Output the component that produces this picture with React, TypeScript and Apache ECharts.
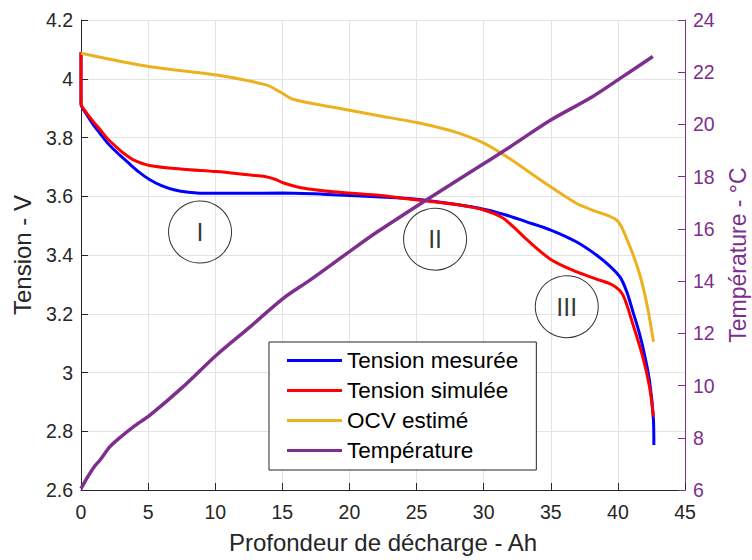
import React, { useEffect, useRef } from "react";
import * as echarts from "echarts";

// Profondeur de décharge (Ah) and values per series
const measuredAh = [0, 0, 0.4, 0.9, 1.4, 2.0, 2.7, 3.5, 4.3, 5.1, 6.0, 7.0, 8.0, 9.5, 12, 15, 18, 22, 25, 28, 30, 31.6, 33.2, 35, 36.9, 38.4, 39.4, 40.2, 40.7, 41.1, 41.5, 41.85, 42.35, 42.65, 42.68];
const measuredV = [4.09, 3.915, 3.88, 3.845, 3.815, 3.78, 3.748, 3.715, 3.683, 3.657, 3.636, 3.621, 3.614, 3.61, 3.61, 3.611, 3.607, 3.598, 3.59, 3.572, 3.556, 3.537, 3.513, 3.485, 3.445, 3.4, 3.362, 3.322, 3.27, 3.21, 3.15, 3.088, 2.974, 2.838, 2.753];

const simulatedAh = [0, 0, 0.4, 0.9, 1.4, 2.0, 2.7, 3.3, 3.9, 5.1, 7.6, 10.1, 12.6, 13.7, 14.5, 15.1, 16.3, 18.8, 22, 25.1, 28.2, 30, 31.4, 32.3, 33.2, 35, 36.9, 38.4, 39.6, 40.36, 41.1, 41.85, 42.35, 42.65];
const simulatedV = [4.09, 3.915, 3.885, 3.855, 3.828, 3.795, 3.765, 3.742, 3.724, 3.705, 3.692, 3.684, 3.672, 3.667, 3.657, 3.645, 3.63, 3.615, 3.604, 3.587, 3.57, 3.553, 3.527, 3.492, 3.453, 3.385, 3.343, 3.318, 3.298, 3.265, 3.167, 3.054, 2.952, 2.85];

const ocvAh = [0, 5.14, 10.1, 13.8, 14.8, 15.8, 18.8, 22, 25.1, 27, 28.2, 30.05, 31.9, 34.4, 36.9, 38.1, 39.9, 40.6, 41.6, 42.2, 42.65];
const ocvV = [4.087, 4.041, 4.013, 3.979, 3.956, 3.93, 3.903, 3.876, 3.85, 3.83, 3.814, 3.78, 3.729, 3.65, 3.576, 3.553, 3.519, 3.462, 3.338, 3.224, 3.105];

const tempAh = [0, 0.5, 1.0, 1.42, 2.16, 3.0, 3.9, 5.14, 7.62, 10.1, 12.6, 15.07, 17.06, 20, 22, 25.7, 29.4, 31.9, 35, 38.1, 40.36, 42.6];
const tempC = [6.05, 6.5, 6.9, 7.15, 7.66, 8.05, 8.42, 8.87, 9.96, 11.17, 12.25, 13.34, 14.04, 15.13, 15.86, 17.1, 18.3, 19.12, 20.17, 21.06, 21.83, 22.6];

const seriesNames = ["Tension mesurée", "Tension simulée", "OCV estimé", "Température"];

// Zone annotations (I, II, III) in data coordinates
const zoneLabels = ["I", "II", "III"];
const zoneAh = [8.87, 26.38, 36.19];
const zoneV = [3.478, 3.454, 3.224];

const FONT = "'Liberation Sans', Arial, Helvetica, sans-serif";
const AX = "#262626";
const PURPLE = "#7E2F8E";

const pairs = (xs: number[], ys: number[]) => xs.map((x, i) => [x, ys[i]]);

export default function App() {
  const ref = useRef<HTMLDivElement>(null);
  useEffect(() => {
    document.documentElement.style.overflow = "hidden";
    document.body.style.margin = "0";
    document.body.style.overflow = "hidden";
    if (!ref.current) return;
    const chart = echarts.init(ref.current, undefined, { renderer: "svg", width: 752, height: 560 });
    chart.setOption({
      animation: false,
      backgroundColor: "#ffffff",
      textStyle: { fontFamily: FONT },
      grid: {
        left: 81,
        right: 67,
        top: 20,
        bottom: 70,
        containLabel: false,
        outerBoundsMode: "none",
      },
      xAxis: {
        type: "value",
        min: 0,
        max: 45,
        interval: 5,
        name: "Profondeur de décharge - Ah",
        nameLocation: "middle",
        nameGap: 40,
        nameTextStyle: { fontSize: 24, color: AX, fontFamily: FONT },
        axisLine: { show: true, onZero: false, lineStyle: { color: AX, width: 1 } },
        axisTick: { show: true, inside: true, length: 7, lineStyle: { color: AX } },
        axisLabel: { fontSize: 19.5, color: AX, margin: 12, fontFamily: FONT },
        splitLine: { show: true, lineStyle: { color: "#e3e3e3", width: 1 } },
      },
      yAxis: [
        {
          type: "value",
          min: 2.6,
          max: 4.2,
          interval: 0.2,
          position: "left",
          name: "Tension - V",
          nameLocation: "middle",
          nameGap: 46,
          nameRotate: 90,
          nameTextStyle: { fontSize: 24, color: AX, fontFamily: FONT },
          axisLine: { show: true, onZero: false, lineStyle: { color: AX, width: 1 } },
          axisTick: { show: true, inside: true, length: 7, lineStyle: { color: AX } },
          axisLabel: {
            fontSize: 19.5,
            color: AX,
            margin: 8,
            fontFamily: FONT,
            formatter: (v: number) => String(Math.round(v * 10) / 10),
          },
          splitLine: { show: true, lineStyle: { color: "#e3e3e3", width: 1 } },
        },
        {
          type: "value",
          min: 6,
          max: 24,
          interval: 2,
          position: "right",
          name: "Température - °C",
          nameLocation: "middle",
          nameGap: 41,
          nameRotate: 90,
          nameTextStyle: { fontSize: 23, color: PURPLE, fontFamily: FONT },
          axisLine: { show: true, onZero: false, lineStyle: { color: PURPLE, width: 1 } },
          axisTick: { show: true, inside: true, length: 7, lineStyle: { color: PURPLE } },
          axisLabel: { fontSize: 19.5, color: PURPLE, margin: 8, fontFamily: FONT },
          splitLine: { show: false },
        },
      ],
      legend: {
        data: seriesNames,
        orient: "vertical",
        left: 269,
        top: 342,
        padding: [7, 18, 8, 18],
        itemGap: 7,
        itemWidth: 55,
        itemHeight: 3,
        icon: "rect",
        borderColor: AX,
        borderWidth: 1,
        borderRadius: 0,
        backgroundColor: "#ffffff",
        textStyle: { fontSize: 22.5, lineHeight: 22, color: "#000000", fontFamily: FONT },
      },
      series: [
        {
          name: seriesNames[0],
          type: "line",
          yAxisIndex: 0,
          data: pairs(measuredAh, measuredV),
          showSymbol: false,
          symbol: "none",
          smooth: 0.3,
          lineStyle: { color: "#0000FF", width: 3 },
          itemStyle: { color: "#0000FF" },
        },
        {
          name: seriesNames[1],
          type: "line",
          yAxisIndex: 0,
          data: pairs(simulatedAh, simulatedV),
          showSymbol: false,
          symbol: "none",
          smooth: 0.3,
          lineStyle: { color: "#FF0000", width: 3 },
          itemStyle: { color: "#FF0000" },
        },
        {
          name: seriesNames[2],
          type: "line",
          yAxisIndex: 0,
          data: pairs(ocvAh, ocvV),
          showSymbol: false,
          symbol: "none",
          smooth: 0.3,
          lineStyle: { color: "#EDB120", width: 3 },
          itemStyle: { color: "#EDB120" },
        },
        {
          name: seriesNames[3],
          type: "line",
          yAxisIndex: 1,
          data: pairs(tempAh, tempC),
          showSymbol: false,
          symbol: "none",
          smooth: 0.3,
          lineStyle: { color: PURPLE, width: 3.5 },
          itemStyle: { color: PURPLE },
        },
        {
          name: "zones",
          type: "scatter",
          yAxisIndex: 0,
          silent: true,
          symbol: "circle",
          symbolSize: [63, 62],
          data: zoneAh.map((x, i) => ({ value: [x, zoneV[i]], name: zoneLabels[i] })),
          itemStyle: { color: "rgba(0,0,0,0)", borderColor: "#000000", borderWidth: 1 },
          label: {
            show: true,
            position: "inside",
            formatter: (p: any) => p.name,
            fontSize: 25,
            color: "#000000",
            textBorderWidth: 0,
            fontFamily: FONT,
          },
          z: 5,
        },
      ],
    });
    return () => chart.dispose();
  }, []);
  return (
    <div
      ref={ref}
      style={{ position: "absolute", left: 0, top: 0, width: 752, height: 560 }}
    />
  );
}
